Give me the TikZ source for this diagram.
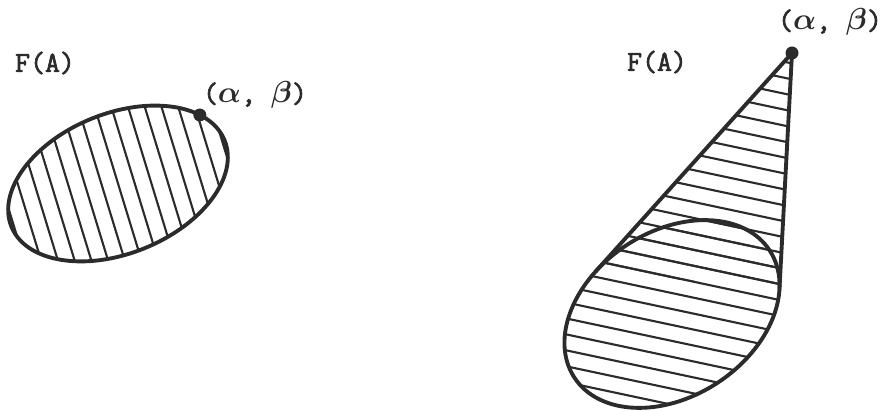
\documentclass[tikz,border=0pt]{standalone}
\usepackage{fontspec}
\setmonofont{Latin Modern Mono}[FakeBold=2.5]
\usepackage{xcolor}
\usepackage{tikz}
\usetikzlibrary{calc}
\definecolor{ink}{HTML}{2B2B2B}

\begin{document}
\begin{tikzpicture}[
    x=0.02cm, y=0.02cm,
    outline/.style={draw=ink, line width=2.2pt},
    hatch/.style={draw=ink, line width=1.2pt},
    point/.style={fill=ink},
    tag/.style={font=\ttfamily\fontsize{16.5}{20}\selectfont\boldmath, text=ink, inner sep=0pt}
]
\useasboundingbox (0,0) rectangle (884,411);

% Left figure: hatched region with boundary point
\coordinate (lc) at (118,227.5);
\begin{scope}[shift={(lc)}, rotate=22]
  \coordinate (ldot) at (28:115 and 70);
  \begin{scope}
    \clip (0,0) ellipse (115 and 70);
    \foreach \k in {-8,...,8}
      \draw[hatch, rotate=-5] (\k*16,-150) -- (\k*16,150);
  \end{scope}
  \draw[outline] (0,0) ellipse (115 and 70);
\end{scope}
\fill[point] (ldot) circle (6.5);

% Right figure: region with cone to the point
\coordinate (rc) at (672,97);
\coordinate (apex) at (792,358);
\begin{scope}[shift={(rc)}, rotate=33]
  \coordinate (ta) at (110.8:116.5 and 82.5);
  \coordinate (tb) at (-27.2:116.5 and 82.5);
\end{scope}

% hatching, cone part and ellipse part
\begin{scope}
  \clip (apex) -- (ta) -- (tb) -- cycle;
  \foreach \k in {-13,...,13}
    \draw[hatch, rotate around={-12:(680,180)}] (480,180+\k*15.6) -- (880,180+\k*15.6);
\end{scope}
\begin{scope}
  \clip[shift={(rc)}, rotate=33] (0,0) ellipse (116.5 and 82.5);
  \foreach \k in {-13,...,13}
    \draw[hatch, rotate around={-12:(680,180)}] (480,180+\k*15.6) -- (880,180+\k*15.6);
\end{scope}

\draw[outline] (apex) -- (ta);
\draw[outline] (apex) -- (tb);
\draw[outline, shift={(rc)}, rotate=33] (0,0) ellipse (116.5 and 82.5);
\fill[point] (apex) circle (6.5);

% Labels
\node[tag] (lname) at (45,348) {F(A)};
\node[tag] (lpt) at (255,316) {($\alpha$, $\beta$)};
\node[tag] (rname) at (657,349) {F(A)};
\node[tag] (rpt) at (830,389) {($\alpha$, $\beta$)};

\end{tikzpicture}
\end{document}
